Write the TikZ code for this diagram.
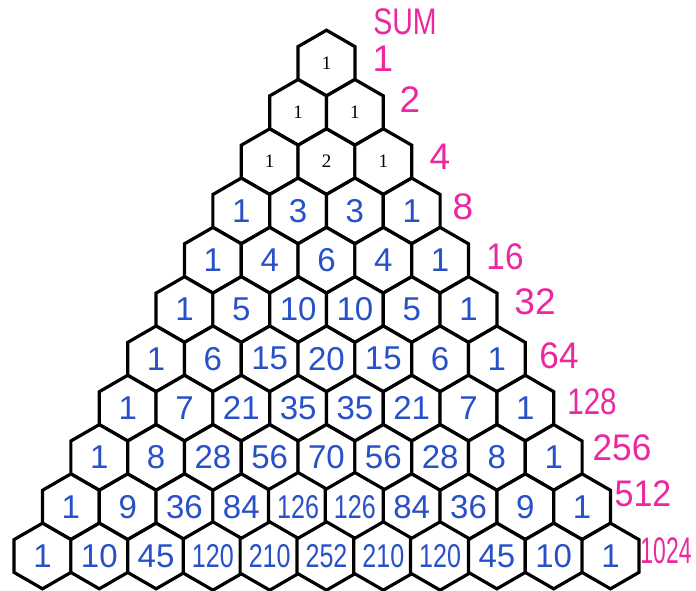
\documentclass[tikz,border=0pt]{standalone}
\usepackage{fontspec}
\usepackage{graphicx}
\setmainfont{Liberation Serif}
\newfontfamily\manofont{Liberation Sans}
\usetikzlibrary{shapes.geometric}
\definecolor{blu}{RGB}{40,80,200}
\definecolor{rosa}{RGB}{235,40,160}

\begin{document}
\begin{tikzpicture}[x=1pt,y=-1pt,
    cella/.style={regular polygon,regular polygon sides=6,shape border rotate=30,
                  draw,line width=3.2pt,fill=white,inner sep=0pt,outer sep=0pt,
                  minimum size=65.6pt},
    stampa/.style={font=\fontsize{19}{19}\selectfont},
    mano/.style={text=blu,font=\manofont\fontsize{33}{33}\selectfont},
    somma/.style={text=rosa,inner sep=0pt,font=\manofont\fontsize{37}{37}\selectfont}]

  \path[use as bounding box,fill=white] (0,0) rectangle (696,590);

  % ---- celle del triangolo, riga per riga ----------------------------------
  \foreach \r/\vals in {0/{1},1/{1,1},2/{1,2,1},3/{1,3,3,1},4/{1,4,6,4,1},
      5/{1,5,10,10,5,1},6/{1,6,15,20,15,6,1},7/{1,7,21,35,35,21,7,1},
      8/{1,8,28,56,70,56,28,8,1},9/{1,9,36,84,126,126,84,36,9,1},
      10/{1,10,45,120,210,252,210,120,45,10,1}}{
    \foreach \v [count=\k from 0] in \vals {
      \ifnum\r<3
        \node[cella,stampa] (c-\r-\k) at ({326.5+(\k-\r/2)*56.8},{63+\r*49.3}) {\v};
      \else
        \node[cella,mano] (c-\r-\k) at ({326.5+(\k-\r/2)*56.8},{63+\r*49.3})
          {\ifnum\v>99 \scalebox{0.76}[1]{\v}\else\v\fi};
      \fi
    }
  }

  % ---- somme delle righe ---------------------------------------------------
  \node[somma] (titolo) at (405,22) {\scalebox{0.77}[1]{SUM}};
  \foreach \r/\n/\sx/\px/\py in {0/1/1/383/59,1/2/1/410/100,2/4/1/440/157,
      3/8/1/463/207,4/16/0.9/505/257,5/32/1/535/302,6/64/0.95/559/356,
      7/128/0.8/592/402,8/256/0.95/622/448,9/512/0.92/643/494,
      10/1024/0.62/666/551}{
    \node[somma] (s\r) at (\px,\py) {\scalebox{\sx}[1]{\n}};
  }

\end{tikzpicture}
\end{document}
